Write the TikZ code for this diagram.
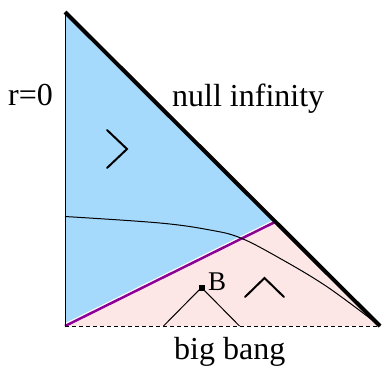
\documentclass[tikz,border=0pt]{standalone}
\usepackage{fontspec}
\setmainfont{Liberation Serif}
\usetikzlibrary{positioning}
\definecolor{pastblue}{RGB}{166,218,253}
\definecolor{futpink}{RGB}{253,230,230}
\definecolor{conepurple}{RGB}{140,0,150}
\tikzstyle{label} = [font=\fontsize{32}{36}\selectfont, inner sep=0pt, anchor=base west]
\tikzstyle{cone} = [line width=2pt, line cap=round]
\tikzstyle{scri} = [line width=4pt]
\tikzstyle{fine} = [line width=1pt]

\begin{document}
\begin{tikzpicture}[x=1pt, y=-1pt]
\useasboundingbox (0,0) rectangle (382,368);

\coordinate (top) at (65,12);
\coordinate (origin) at (65,326);
\coordinate (corner) at (380,326);
\coordinate (meet) at (275,222);
\coordinate (B) at (201.5,287.5);

% regions
\fill [pastblue] (top) -- (origin) -- (meet) -- cycle;
\draw [white, line width=5pt] (origin) -- (meet);
\fill [futpink] (origin) -- (corner) -- (meet) -- cycle;
\draw [conepurple, line width=2.5pt] (origin) -- (meet);

% boundaries
\draw [fine] (top) -- (origin);
\draw [fine, dash pattern=on 4pt off 3pt] (origin) -- (corner);
\draw [scri] (top) -- (corner);

% surface
\draw [fine] plot[smooth, tension=0.6] coordinates {(65,216.5) (160,223) (210,230) (240,237.7) (277,256.7) (327,286.7) (380,326)};

% past light cone of B
\fill (B) ++(-3,-3) rectangle ++(6,6);
\coordinate (Bleft) at (163.5,326);
\coordinate (Bright) at (239.5,326);
\draw [fine] (Bleft) -- (B) -- (Bright);

% cones
\draw [cone] (107,130) -- (127,149) -- (107,168);
\draw [cone] (245,297) -- (264.5,278) -- (284,297);

% labels
\node (rzero) [label] at (8,105) {r=0};
\node (null) [label] at (172,106) {null infinity};
\node (bang) [label] at (174,359) {big bang};
\node (Blab) [label, font=\fontsize{27}{30}\selectfont] at (208,290) {B};

\end{tikzpicture}
\end{document}
